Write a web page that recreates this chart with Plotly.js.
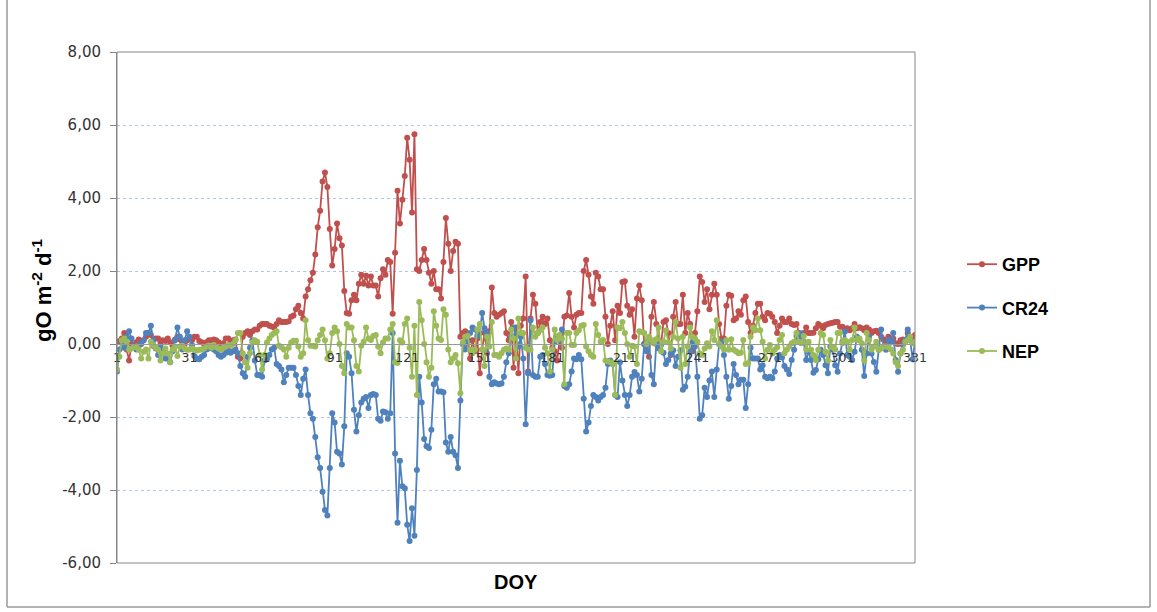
<!DOCTYPE html>
<html>
<head>
<meta charset="utf-8">
<script src="https://cdn.plot.ly/plotly-3.0.1.min.js"></script>
<style>
  html, body { margin: 0; padding: 0; background: #fff; }
  #chart { width: 1157px; height: 612px; }
</style>
</head>
<body>
<div id="chart"></div>
<script>
// DOY tick labels
const tickDays = [1, 31, 61, 91, 121, 151, 181, 211, 241, 271, 301, 331];
// y tick values and their labels (as printed, decimal comma, hyphen minus)
const yTicks = [-6, -4, -2, 0, 2, 4, 6, 8];
const yTickText = ['-6,00', '-4,00', '-2,00', '0,00', '2,00', '4,00', '6,00', '8,00'];

// GPP (gO m-2 d-1), DOY 1..331
const gpp = [
  0.05, 0.08, 0.15, 0.30, -0.15, -0.45, 0.00, -0.05, 0.05, 0.12,
  0.00, 0.10, 0.20, 0.30, 0.25, -0.05, 0.15, 0.15, 0.05, 0.10,
  0.08, 0.15, 0.05, -0.05, 0.12, 0.20, 0.12, 0.05, 0.00, 0.10,
  0.15, 0.10, 0.20, 0.20, 0.08, 0.05, 0.00, 0.05, 0.10, 0.10,
  0.12, 0.10, 0.05, -0.07, 0.02, 0.15, 0.15, 0.05, 0.10, 0.12,
  -0.35, -0.40, 0.20, 0.30, 0.35, 0.25, 0.35, 0.40, 0.40, 0.50,
  0.55, 0.55, 0.55, 0.50, 0.48, 0.45, 0.55, 0.65, 0.60, 0.60,
  0.60, 0.62, 0.75, 0.78, 0.95, 1.05, 0.85, 0.70, 1.30, 1.50,
  1.75, 1.95, 2.45, 3.20, 3.65, 4.45, 4.70, 4.30, 3.15, 2.15,
  2.60, 3.30, 2.90, 2.70, 1.45, 0.85, 0.83, 1.20, 1.35, 1.20,
  1.65, 1.90, 1.65, 1.87, 1.60, 1.85, 1.60, 1.60, 1.30, 1.80,
  2.05, 1.90, 2.30, 2.25, 0.83, 2.50, 4.20, 3.30, 3.95, 4.60,
  5.65, 5.05, 3.60, 5.75, 2.05, 2.00, 2.30, 2.60, 2.30, 1.95,
  1.65, 2.00, 1.50, 1.50, 1.25, 2.25, 3.45, 2.75, 2.00, 2.55,
  2.80, 2.75, 0.20, 0.30, 0.35, 0.05, -0.40, 0.10, -0.20, 0.15,
  -0.80, -0.15, 0.30, -0.25, 0.35, 1.55, 0.85, 0.75, 0.80, 0.85,
  0.90, 0.30, 0.10, 0.60, -0.65, 0.45, -0.80, 0.50, 0.70, 1.85,
  -0.75, 0.70, 1.35, 1.10, 0.30, 0.60, 0.75, 0.55, 0.70, 0.10,
  -0.10, -0.20, -0.45, 0.10, -0.10, 0.75, 0.78, 1.40, 0.75, 0.45,
  0.80, 0.85, 0.85, 2.00, 2.30, 1.90, 1.30, 1.10, 1.95, 1.85,
  1.50, 1.50, 0.75, 0.00, 0.50, 0.90, 0.10, 1.05, 0.85, 1.70,
  1.72, 1.05, 0.80, 0.95, 0.20, 1.25, 1.60, 1.20, 0.00, 0.00,
  -0.35, 0.75, 1.15, 0.55, 0.10, 0.00, 0.60, 0.65, 0.30, -0.30,
  0.75, 1.15, 0.55, 0.55, 1.35, 0.30, 0.85, 0.55, -0.20, 0.30,
  0.90, 1.85, 1.70, 1.15, 1.50, 0.95, 1.35, 1.65, 1.35, 0.55,
  0.15, 0.15, 1.05, 1.35, 1.32, 0.65, 0.70, 0.90, 0.80, 1.20,
  1.30, 0.60, 0.30, 0.50, 0.85, 1.10, 1.10, 0.75, 0.65, 0.85,
  0.83, 0.75, 0.60, 0.30, 0.50, 0.70, 0.60, 0.60, 0.70, 0.55,
  0.52, 0.55, 0.30, 0.22, 0.30, 0.45, 0.30, 0.30, 0.31, 0.43,
  0.55, 0.50, 0.43, 0.52, 0.55, 0.57, 0.58, 0.60, 0.60, 0.47,
  0.47, 0.38, 0.43, 0.38, 0.43, 0.55, 0.43, 0.46, 0.43, 0.38,
  0.45, 0.40, 0.30, 0.35, 0.36, 0.30, 0.20, 0.12, 0.07, 0.20,
  0.10, 0.15, 0.02, 0.00, 0.10, 0.12, 0.07, 0.30, 0.20, 0.10,
  0.25
];

// CR24 (gO m-2 d-1), DOY 1..331
const cr24 = [
  -0.75, -0.15, 0.05, -0.10, 0.20, 0.35, 0.15, -0.10, -0.15, -0.05,
  0.02, 0.10, 0.30, 0.30, 0.50, 0.10, -0.12, -0.30, -0.07, -0.25,
  -0.40, -0.40, -0.50, -0.20, 0.10, 0.45, 0.20, -0.15, 0.10, 0.35,
  0.20, -0.03, -0.33, -0.40, -0.42, -0.35, -0.30, -0.15, -0.12, -0.10,
  -0.15, -0.20, -0.30, -0.35, -0.30, -0.24, -0.18, -0.24, -0.20, -0.16,
  -0.25, -0.60, -0.80, -0.90, -0.35, -0.10, 0.10, -0.45, -0.85, -0.85,
  -0.90, -0.45, -0.42, -0.30, -0.15, -0.10, -0.55, -0.60, -0.70, -1.05,
  -0.85, -0.65, -0.65, -0.65, -0.85, -1.15, -1.40, -0.95, -0.70, -1.40,
  -1.90, -2.05, -2.55, -3.10, -3.40, -4.05, -4.55, -4.70, -3.40, -1.90,
  -2.15, -2.95, -3.00, -3.30, -2.25, -0.25, -0.35, -0.80, -1.80, -2.40,
  -1.95, -1.60, -1.50, -1.45, -1.75, -1.40, -1.37, -1.40, -2.05, -2.10,
  -1.85, -1.87, -2.05, -1.90, 0.30, -3.00, -4.90, -3.20, -3.90, -3.95,
  -4.95, -5.40, -4.50, -5.25, -3.45, -0.90, -1.60, -2.60, -2.80, -2.85,
  -2.35, -1.10, -0.95, -1.30, -1.30, -1.32, -2.70, -2.95, -2.55, -2.95,
  -3.05, -3.40, -1.55, 0.00, -0.15, 0.10, 0.30, 0.45, 0.40, 0.22,
  0.30, 0.85, 0.43, 0.30, -0.90, -1.10, -1.05, -1.08, -1.10, -1.08,
  -0.90, -0.50, -0.25, 0.20, 0.45, 0.25, -0.07, 0.20, -0.40, -2.20,
  -0.80, 0.65, -0.85, -0.90, -0.90, -0.35, -0.30, -0.55, -0.85, -0.87,
  -0.85, 0.05, 0.20, 0.10, 0.40, -1.15, -1.20, -1.10, -0.75, -0.40,
  -0.42, -0.30, -0.42, -1.50, -2.40, -2.15, -1.70, -1.40, -1.45, -1.55,
  -1.45, -1.40, -1.20, -0.55, -0.45, -0.55, -1.40, -1.45, -0.50, -1.00,
  -1.40, -1.70, -1.40, -0.90, -0.77, -0.85, -1.30, -0.95, 0.00, -0.20,
  0.10, -0.85, -1.10, 0.00, -0.12, -0.03, -0.24, -0.55, -0.44, -0.26,
  -0.17, -0.60, -0.35, -0.17, -1.25, -1.17, -0.90, -0.20, 0.05, -0.07,
  -0.90, -2.05, -1.95, -1.20, -1.45, -1.00, -0.75, -1.45, -0.70, 0.00,
  0.06, -0.30, -0.90, -1.50, -1.15, -0.55, -0.85, -1.10, -0.98, -0.98,
  -1.75, -1.10, -0.10, -0.40, -0.40, -0.40, -0.70, -0.58, -0.90, -0.94,
  -0.90, -0.94, -0.75, -0.40, -0.30, -0.37, -0.60, -0.70, -0.82, -0.44,
  -0.16, 0.22, 0.11, 0.29, 0.06, -0.44, -0.21, -0.44, -0.79, -0.71,
  -0.42, -0.16, -0.30, -0.58, -0.80, -0.07, -0.16, -0.58, -0.76, -0.26,
  0.06, 0.34, -0.30, -0.35, -0.44, -0.21, 0.20, 0.11, -0.16, -0.88,
  -0.26, 0.20, -0.26, -0.49, -0.76, -0.16, 0.40, -0.07, -0.16, 0.11,
  0.04, 0.30, -0.44, -0.76, -0.26, -0.03, 0.11, 0.40, 0.11, -0.42,
  0.05
];

// NEP (gO m-2 d-1), DOY 1..331
const nep = [
  -0.70, -0.35, 0.10, 0.15, 0.06, -0.16, -0.12, -0.09, -0.07, -0.16,
  -0.40, -0.21, -0.15, -0.40, 0.06, -0.03, -0.10, -0.16, -0.45, -0.26,
  -0.12, -0.26, -0.50, -0.15, -0.07, -0.33, -0.07, -0.05, -0.12, -0.16,
  -0.15, -0.12, -0.16, -0.18, -0.16, -0.15, -0.12, -0.07, -0.05, -0.10,
  -0.03, -0.08, -0.12, -0.16, -0.10, -0.07, -0.03, -0.05, 0.00, 0.10,
  0.30, 0.30, -0.25, -0.50, -0.65, -0.25, 0.05, 0.10, 0.06, -0.30,
  -0.70, -0.30, 0.04, 0.15, 0.25, 0.30, 0.35, -0.05, -0.09, -0.15,
  -0.35, -0.10, 0.04, 0.09, 0.09, -0.07, -0.35, -0.25, 0.65, 0.10,
  -0.05, -0.05, -0.07, 0.10, 0.25, 0.40, 0.10, -0.40, -0.25, 0.30,
  0.45, 0.35, 0.00, -0.60, -0.80, 0.55, 0.45, 0.45, 0.10, -0.60,
  -0.75, -0.05, 0.06, 0.45, 0.15, 0.11, 0.22, 0.25, -0.07, -0.25,
  0.04, 0.15, 0.15, 0.40, 0.55, -0.50, -0.52, 0.10, 0.04, 0.55,
  0.70, -0.10, -0.90, 0.50, -1.40, 1.15, 0.65, 0.00, -0.50, -0.90,
  -0.65, 0.90, 0.50, 0.15, 0.11, 0.95, 0.80, -0.15, -0.50, -0.40,
  -0.30, -0.53, -1.35, 0.05, 0.20, 0.22, -0.15, -0.25, -0.15, 0.40,
  0.55, -0.15, -0.60, 0.20, -0.07, 0.60, -0.30, -0.30, -0.35, -0.25,
  -0.16, -0.12, -0.16, 0.40, 0.15, -0.40, 0.70, 0.30, 0.30, -0.10,
  -0.15, -0.16, 0.45, 0.20, 0.30, 0.38, 0.45, -0.10, -0.25, -0.75,
  -0.15, 0.40, 0.11, 0.25, 0.15, -1.10, 0.30, 0.30, -0.03, -0.03,
  0.30, 0.38, 0.50, 0.52, -0.07, -0.20, -0.30, -0.35, 0.55, 0.25,
  0.06, 0.11, -0.45, -0.47, -0.50, -0.53, -1.40, 0.45, 0.43, 0.60,
  0.30, 0.00, -0.35, -0.05, -0.07, -0.55, 0.35, 0.33, 0.30, 0.00,
  0.20, 0.11, 0.02, 0.13, 0.45, -0.20, 0.06, 0.37, 0.04, -0.12,
  0.20, 0.60, 0.15, -0.65, 0.20, -0.55, -0.07, 0.45, 0.20, 0.15,
  0.06, -0.25, -0.30, -0.12, 0.02, -0.07, 0.35, 0.11, 0.65, 0.00,
  -0.07, -0.15, 0.10, -0.16, 0.13, -0.16, -0.20, -0.25, -0.24, 0.11,
  -0.55, -0.53, 0.20, 0.45, 0.38, 0.70, 0.38, 0.06, -0.40, -0.16,
  -0.03, -0.26, -0.16, -0.09, 0.11, 0.25, -0.25, -0.16, -0.07, 0.02,
  0.06, 0.30, 0.06, 0.02, 0.22, -0.16, 0.06, -0.16, -0.30, -0.44,
  -0.16, 0.30, 0.25, -0.21, -0.45, 0.11, -0.09, -0.15, 0.30, 0.30,
  0.02, 0.11, 0.06, -0.16, 0.11, 0.45, 0.11, 0.15, 0.02, -0.45,
  0.30, 0.11, -0.16, -0.07, 0.06, -0.16, -0.12, -0.07, -0.07, -0.09,
  -0.15, -0.26, -0.50, -0.60, -0.26, -0.16, 0.06, 0.11, 0.20, 0.02,
  0.06
];

const doy = gpp.map((_, i) => i + 1);

function series(name, y, color, group) {
  return {
    type: 'scatter', mode: 'lines+markers', name: name, x: doy, y: y,
    legendgroup: group,
    line: { color: color, width: 1.8 },
    marker: { color: color, size: 6 }
  };
}

const traces = [
  series('GPP', gpp, '#C0504D', 'a'),
  series('CR24', cr24, '#4F81BD', 'b'),
  series('NEP', nep, '#9BBB59', 'c')
];

// plot-area geometry helpers (paper coords)
const L = 117, R = 915, T = 52, B = 563;
const px = v => (v - L) / (R - L);
const py = v => (B - v) / (B - T);

const layout = {
  width: 1157, height: 612,
  margin: { l: L, r: 1157 - R, t: T, b: 612 - B },
  paper_bgcolor: '#ffffff', plot_bgcolor: '#ffffff',
  showlegend: true,
  legend: {
    x: px(962), y: py(308), xanchor: 'left', yanchor: 'middle',
    traceorder: 'grouped', tracegroupgap: 17,
    font: { family: 'Liberation Sans, Arial, sans-serif', size: 18, color: '#000', weight: 'bold' },
    itemwidth: 30, bgcolor: 'rgba(0,0,0,0)'
  },
  xaxis: {
    type: 'linear', range: [1, 331],
    anchor: 'free', position: 6 / 14,
    tickmode: 'array', tickvals: tickDays, ticktext: tickDays.map(String),
    showgrid: false, zeroline: false,
    showline: true, linecolor: '#9a9a9a', linewidth: 1,
    ticks: '', ticklabelstandoff: 2,
    tickfont: { family: 'DejaVu Sans, sans-serif', size: 12.5, color: '#333' }
  },
  yaxis: {
    range: [-6, 8],
    tickmode: 'array', tickvals: yTicks, ticktext: yTickText,
    showgrid: true, gridcolor: '#AFC6EA', griddash: 'dot', gridwidth: 1,
    zeroline: false,
    showline: true, linecolor: '#868686', linewidth: 1,
    ticks: 'outside', ticklen: 6, tickcolor: '#868686',
    ticklabelstandoff: 6,
    tickfont: { family: 'DejaVu Sans, sans-serif', size: 15, color: '#333' }
  },
  shapes: [
    // plot area border
    { type: 'rect', xref: 'paper', yref: 'paper', x0: 0, x1: 1, y0: 0, y1: 1,
      line: { color: '#868686', width: 1 }, layer: 'above' },
    // chart outer frame
    { type: 'line', xref: 'paper', yref: 'paper', x0: px(7), x1: px(7), y0: py(0), y1: py(607),
      line: { color: '#9a9a9a', width: 1.5 } },
    { type: 'line', xref: 'paper', yref: 'paper', x0: px(1150), x1: px(1150), y0: py(0), y1: py(607),
      line: { color: '#9a9a9a', width: 1.5 } },
    { type: 'line', xref: 'paper', yref: 'paper', x0: px(7), x1: px(1150), y0: py(607), y1: py(607),
      line: { color: '#9a9a9a', width: 1.5 } }
  ],
  annotations: [
    { text: '<b>DOY</b>', xref: 'paper', yref: 'paper', x: 0.5, y: py(582),
      xanchor: 'center', yanchor: 'middle', showarrow: false,
      font: { family: 'Liberation Sans, Arial, sans-serif', size: 20, color: '#000' } },
    { text: '<b>gO m<sup>-2</sup> d<sup>-1</sup></b>', xref: 'paper', yref: 'paper',
      x: px(42), y: py(290), xanchor: 'center', yanchor: 'middle', textangle: -90,
      showarrow: false,
      font: { family: 'Liberation Sans, Arial, sans-serif', size: 22, color: '#000' } }
  ]
};

Plotly.newPlot('chart', traces, layout, { displayModeBar: false, staticPlot: true });
</script>
</body>
</html>
